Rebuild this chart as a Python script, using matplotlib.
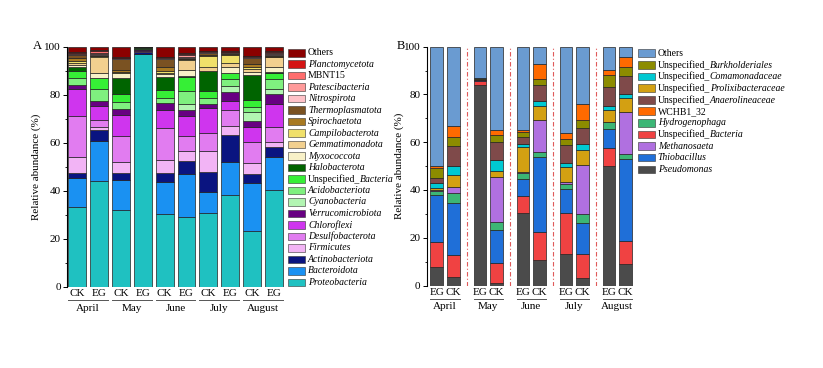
import matplotlib
matplotlib.use('Agg')
import numpy as np
import matplotlib.pyplot as plt
import matplotlib.transforms as mtransforms
from matplotlib.patches import Rectangle

plt.rcParams['font.family'] = 'Liberation Serif'

months = ['April', 'May', 'June', 'July', 'August']
samples_a = ['CK', 'EG'] * 5
samples_b = ['EG', 'CK'] * 5

# ---- Panel A (phylum), bars: CK/EG per month, stacked bottom -> top
proteobacteria = [33.1, 44.2, 32.0, 96.8, 30.2, 28.9, 30.6, 38.2, 23.3, 40.3]
bacteroidota = [12.0, 16.4, 12.5, 0.2, 13.6, 18.1, 8.7, 13.7, 19.8, 13.9]
actinobacteriota = [2.4, 4.7, 3.0, 1.0, 3.7, 5.5, 8.6, 11.3, 3.9, 3.9]
firmicutes = [6.4, 1.4, 4.3, 0.2, 5.3, 4.2, 8.6, 3.8, 4.4, 2.1]
desulfobacterota = [17.2, 2.8, 11.1, 0.2, 13.2, 6.2, 7.7, 6.6, 8.8, 6.5]
chloroflexi = [11.1, 6.0, 8.7, 0.3, 7.6, 8.4, 10.1, 3.9, 6.5, 9.4]
verrucomicrobiota = [1.8, 1.8, 2.4, 0.2, 2.8, 2.3, 1.9, 3.8, 2.2, 4.2]
cyanobacteria = [0.0, 0.0, 0.0, 0.0, 0.0, 2.5, 0.0, 2.3, 4.0, 2.1]
acidobacteriota = [2.8, 5.1, 2.8, 0.2, 2.1, 5.6, 2.6, 2.8, 2.1, 4.1]
unspecified_bacteria = [3.1, 4.5, 3.5, 0.2, 3.5, 5.5, 2.7, 2.5, 2.8, 2.4]
halobacterota = [1.8, 0.0, 6.5, 0.4, 5.5, 0.7, 8.4, 0.3, 10.5, 0.4]
myxococcota = [0.7, 2.1, 2.1, 0.0, 1.2, 2.4, 0.0, 2.5, 1.0, 2.4]
gemmatimonadota = [0.8, 6.8, 0.3, 0.0, 0.5, 4.2, 1.7, 1.6, 1.5, 3.9]
campilobacterota = [1.0, 0.2, 0.3, 0.0, 0.8, 0.2, 4.6, 3.2, 0.8, 0.3]
spirochaetota = [0.9, 0.2, 0.8, 0.0, 1.4, 0.3, 0.5, 0.3, 1.2, 0.3]
thermoplasmatota = [1.4, 0.2, 4.6, 0.0, 3.4, 0.4, 0.6, 0.4, 2.5, 0.3]
nitrospirota = [0.2, 0.5, 0.2, 0.0, 0.3, 0.5, 0.3, 0.3, 0.3, 0.4]
patescibacteria = [0.2, 0.6, 0.2, 0.0, 0.3, 0.5, 0.3, 0.2, 0.3, 0.4]
mbnt15 = [0.3, 0.6, 0.2, 0.0, 0.2, 0.4, 0.2, 0.2, 0.2, 0.4]
planctomycetota = [0.4, 0.5, 0.3, 0.0, 0.2, 0.4, 0.2, 0.3, 0.2, 0.4]
others_a = [2.4, 1.4, 4.2, 0.3, 4.2, 2.8, 1.7, 1.8, 3.7, 1.9]

# (values, upright prefix, italic name, colour)
layers_a = [
    (proteobacteria, '', 'Proteobacteria', '#1fc1c1'),
    (bacteroidota, '', 'Bacteroidota', '#1a91f2'),
    (actinobacteriota, '', 'Actinobacteriota', '#0a1480'),
    (firmicutes, '', 'Firmicutes', '#f2b4f5'),
    (desulfobacterota, '', 'Desulfobacterota', '#e17cf0'),
    (chloroflexi, '', 'Chloroflexi', '#cf35ee'),
    (verrucomicrobiota, '', 'Verrucomicrobiota', '#680082'),
    (cyanobacteria, '', 'Cyanobacteria', '#b2f5b2'),
    (acidobacteriota, '', 'Acidobacteriota', '#7ff07f'),
    (unspecified_bacteria, 'Unspecified_', 'Bacteria', '#36ef36'),
    (halobacterota, '', 'Halobacterota', '#006400'),
    (myxococcota, '', 'Myxococcota', '#f8f1c8'),
    (gemmatimonadota, '', 'Gemmatimonadota', '#f2d08f'),
    (campilobacterota, '', 'Campilobacterota', '#f0e06a'),
    (spirochaetota, '', 'Spirochaetota', '#a87a22'),
    (thermoplasmatota, '', 'Thermoplasmatota', '#7a5222'),
    (nitrospirota, '', 'Nitrospirota', '#ffc2c8'),
    (patescibacteria, '', 'Patescibacteria', '#ff9a9a'),
    (mbnt15, 'MBNT15', '', '#ff6e6e'),
    (planctomycetota, '', 'Planctomycetota', '#d41414'),
    (others_a, 'Others', '', '#8b0000'),
]

# ---- Panel B (genus), bars: EG/CK per month, stacked bottom -> top
pseudomonas = [7.9, 3.7, 84.0, 0.9, 30.2, 10.7, 13.0, 3.0, 50.1, 9.2]
unspec_bacteria_b = [10.4, 9.1, 1.6, 8.4, 7.2, 11.8, 17.2, 10.0, 7.4, 9.6]
thiobacillus = [19.4, 21.8, 0.1, 13.9, 7.0, 31.4, 10.1, 13.0, 8.0, 34.1]
hydrogenophaga = [1.7, 4.0, 0.1, 3.5, 2.8, 2.1, 2.4, 3.8, 2.8, 2.1]
methanosaeta = [0.4, 2.7, 0.1, 18.8, 0.3, 13.2, 0.5, 20.6, 0.0, 17.5]
prolixibacteraceae = [1.0, 4.9, 0.2, 2.5, 10.4, 6.1, 6.3, 6.3, 5.1, 6.0]
comamonadaceae = [2.1, 3.9, 0.1, 4.5, 1.4, 1.9, 2.0, 2.5, 1.8, 1.9]
anaerolineaceae = [2.1, 8.4, 0.3, 7.4, 2.8, 6.9, 7.4, 6.7, 8.0, 7.4]
burkholderiales = [4.2, 3.8, 0.3, 3.2, 2.1, 2.5, 2.4, 3.3, 5.0, 3.7]
wchb1_32 = [0.9, 4.6, 0.1, 2.0, 0.9, 6.1, 2.4, 6.7, 2.0, 4.2]
others_b = [49.9, 33.1, 13.1, 34.9, 34.9, 7.3, 36.3, 24.1, 9.8, 4.3]

col_b = {
    'pse': '#4b4b4b', 'ub': '#f04242', 'thi': '#1f6fd8', 'hyd': '#3cb675',
    'met': '#b070e0', 'pro': '#d3a012', 'com': '#00c9d2', 'ana': '#7f4a4a',
    'bur': '#8c8c00', 'wch': '#ff6a00', 'oth': '#6a9bd1',
}
layers_b = [
    (pseudomonas, 'pse'), (unspec_bacteria_b, 'ub'), (thiobacillus, 'thi'),
    (hydrogenophaga, 'hyd'), (methanosaeta, 'met'), (prolixibacteraceae, 'pro'),
    (comamonadaceae, 'com'), (anaerolineaceae, 'ana'), (burkholderiales, 'bur'),
    (wchb1_32, 'wch'), (others_b, 'oth'),
]
legend_b = [
    ('oth', 'Others', ''),
    ('bur', 'Unspecified_', 'Burkholderiales'),
    ('com', 'Unspecified_', 'Comamonadaceae'),
    ('pro', 'Unspecified_', 'Prolixibacteraceae'),
    ('ana', 'Unspecified_', 'Anaerolineaceae'),
    ('wch', 'WCHB1_32', ''),
    ('hyd', '', 'Hydrogenophaga'),
    ('ub', 'Unspecified_', 'Bacteria'),
    ('met', '', 'Methanosaeta'),
    ('thi', '', 'Thiobacillus'),
    ('pse', '', 'Pseudomonas'),
]

W, H = 823, 368
fig = plt.figure(figsize=(W / 100, H / 100), dpi=100)
LEG_FS = 7.0


def px(x0, y0, x1, y1):
    # pixel box (top-left origin) -> figure fraction rect
    return [x0 / W, 1 - y1 / H, (x1 - x0) / W, (y1 - y0) / H]


def style_axis(ax):
    for s in ['top', 'right', 'bottom']:
        ax.spines[s].set_visible(False)
    ax.spines['left'].set_linewidth(0.8)
    ax.set_ylim(0, 100)
    ax.set_yticks(np.arange(0, 101, 20))
    ax.set_yticks(np.arange(10, 100, 20), minor=True)
    ax.tick_params(axis='y', which='major', length=3, width=0.7, labelsize=8, pad=1.5)
    ax.tick_params(axis='y', which='minor', length=1.8, width=0.6)
    ax.tick_params(axis='x', length=0, labelsize=8, pad=1.5)
    ax.set_ylabel('Relative abundance (%)', fontsize=8)


def month_labels(ax, spans):
    trans = mtransforms.blended_transform_factory(ax.transData, ax.transAxes)
    for (a, b), m in zip(spans, months):
        ax.plot([a, b], [-0.056, -0.056], color='#555555', lw=0.7,
                transform=trans, clip_on=False)
        ax.text((a + b) / 2, -0.09, m, transform=trans, ha='center',
                va='center', fontsize=8)


def legend_column(entries, x0, y0, dy):
    for i, (color, plain, ital) in enumerate(entries):
        yc = y0 + i * dy
        fig.add_artist(Rectangle((x0 / W, 1 - (yc + 3.8) / H), 17 / W, 7.6 / H,
                                 transform=fig.transFigure, facecolor=color,
                                 edgecolor='#333333', linewidth=0.4))
        tx, ty = (x0 + 20) / W, 1 - yc / H
        if plain:
            t = fig.text(tx, ty, plain, fontsize=LEG_FS, va='center', ha='left')
            if ital:
                # italic part placed right after the upright prefix
                plt.annotate(ital, xy=(1, 0), xycoords=t, va='bottom', ha='left',
                             fontsize=LEG_FS, style='italic')
        else:
            fig.text(tx, ty, ital, fontsize=LEG_FS, va='center', ha='left',
                     style='italic')


# Panel A
axA = fig.add_axes(px(67, 46.7, 285, 286.7))
xa = np.arange(10)
bottom = np.zeros(10)
for vals, _, _, color in layers_a:
    axA.bar(xa, vals, bottom=bottom, width=0.82, color=color,
            edgecolor='#222222', linewidth=0.5)
    bottom += np.array(vals)
axA.set_xlim(-0.46, 9.5)
axA.set_xticks(xa, samples_a)
style_axis(axA)
axA.yaxis.set_label_coords(-0.12, 0.5)
month_labels(axA, [(2 * g - 0.41, 2 * g + 1.41) for g in range(5)])
legend_column([(c, p, i) for _, p, i, c in layers_a[::-1]], 288, 52.7, 11.48)

# Panel B
axB = fig.add_axes(px(426.7, 46.7, 634, 285.5))
off, bw = 0.192, 0.29
xb = np.array([g + s * off for g in range(5) for s in (-1, 1)])
bottom = np.zeros(10)
for vals, key in layers_b:
    axB.bar(xb, vals, bottom=bottom, width=bw, color=col_b[key],
            edgecolor='#222222', linewidth=0.5)
    bottom += np.array(vals)
for g in range(4):
    axB.axvline(g + 0.5, 0, 1, color='#e05a5a', lw=0.8, ls=(0, (4, 2, 1, 2)))
axB.set_xlim(-0.425, 4.39)
axB.set_xticks(xb, samples_b)
style_axis(axB)
axB.yaxis.set_label_coords(-0.11, 0.5)
month_labels(axB, [(g - off - bw / 2, g + off + bw / 2) for g in range(5)])
legend_column([(col_b[k], p, i) for k, p, i in legend_b], 637.7, 53.3, 11.6)

fig.text(37 / W, 1 - 46 / H, 'A', fontsize=9, ha='center', va='center')
fig.text(401 / W, 1 - 46 / H, 'B', fontsize=9, ha='center', va='center')

fig.savefig('out.png', dpi=100)
